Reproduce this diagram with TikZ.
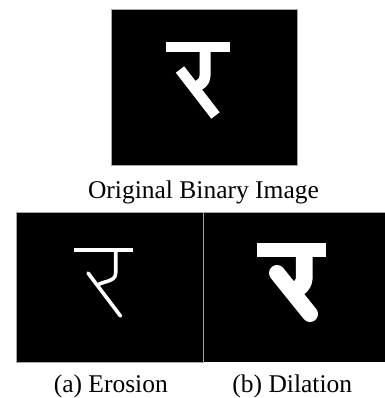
\documentclass[tikz,border=0pt]{standalone}
\usepackage{fontspec}
\setmainfont{Liberation Serif}
\begin{document}
\begin{tikzpicture}[x=1pt,y=-1pt,
  panel/.style={fill=black, draw=black!35, line width=0.8pt},
  caption/.style={anchor=base, inner sep=0pt, font=\fontsize{25.5}{30}\selectfont},
  ink/.style={draw=white, line join=round}
]
\useasboundingbox (0,0) rectangle (384,398);

% ---------- original binary image ----------
\path[panel] (111,9.5) rectangle (297,165);
% top bar
\fill[white] (166,41.7) rectangle (230,51.7);
% stem curving into the hook
\draw[ink, line width=11pt] (205,50) -- (205,76) to[out=-90,in=30] (194.2,88);
% diagonal stroke
\draw[ink, line width=10.5pt, line cap=butt] (180,69.5) -- (215.5,115.5);
\node[caption] (orig) at (203.5,198) {Original Binary Image};

% ---------- eroded image ----------
\path[panel] (16.5,212.3) rectangle (203.3,362);
\fill[white] (74.3,247.7) rectangle (133.3,251.7);
\draw[ink, line width=3.6pt] (115.7,250) -- (115.7,273) to[out=-90,in=30] (97.5,285);
\draw[ink, line width=3.6pt, line cap=round] (88,273) -- (120.5,316);
\node[caption] (ero) at (110.8,392) {(a) Erosion};

% ---------- dilated image ----------
\path[fill=black] (203.3,212.3) rectangle (390,362);
\draw[black!35, line width=0.8pt] (203.3,362) -- (203.3,212.3) -- (390,212.3);
\fill[white] (256.7,242.7) rectangle (326,256.7);
\draw[ink, line width=16.7pt] (304.3,250) -- (304.3,278) to[out=-90,in=30] (292.3,292);
\draw[ink, line width=16pt, line cap=round] (277,273) -- (310,314);
\node[caption] (dil) at (292.3,392) {(b) Dilation};
\end{tikzpicture}
\end{document}
